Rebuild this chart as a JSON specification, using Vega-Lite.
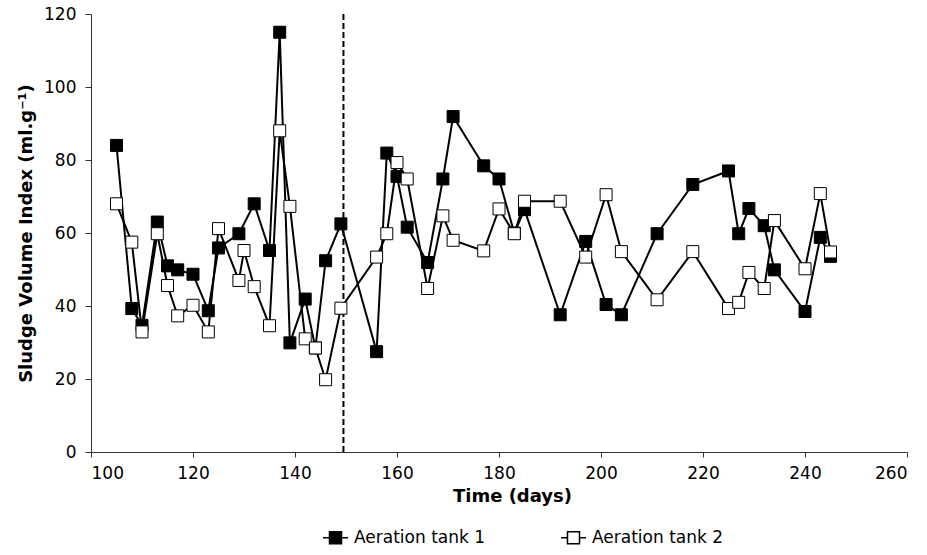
{
  "$schema": "https://vega.github.io/schema/vega-lite/v6.json",
  "autosize": {"type": "none"},
  "width": 816,
  "height": 438,
  "padding": {"left": 91, "top": 14, "right": 20, "bottom": 103},
  "background": "#ffffff",
  "config": {
    "view": {"stroke": null},
    "font": "DejaVu Sans",
    "axis": {"grid": false, "domainColor": "#333333", "tickColor": "#333333", "labelColor": "#000000", "titleColor": "#000000", "labelFont": "DejaVu Sans", "titleFont": "DejaVu Sans", "labelFontSize": 17, "titleFontSize": 18, "titleFontWeight": "bold"}
  },
  "datasets": {
    "svi": [
      {"day": 105, "svi": 84, "series": "Aeration tank 1"},
      {"day": 108, "svi": 39.3, "series": "Aeration tank 1"},
      {"day": 110, "svi": 34.7, "series": "Aeration tank 1"},
      {"day": 113, "svi": 63, "series": "Aeration tank 1"},
      {"day": 115, "svi": 51, "series": "Aeration tank 1"},
      {"day": 117, "svi": 49.9, "series": "Aeration tank 1"},
      {"day": 120, "svi": 48.7, "series": "Aeration tank 1"},
      {"day": 123, "svi": 38.7, "series": "Aeration tank 1"},
      {"day": 125, "svi": 55.9, "series": "Aeration tank 1"},
      {"day": 129, "svi": 59.8, "series": "Aeration tank 1"},
      {"day": 132, "svi": 68, "series": "Aeration tank 1"},
      {"day": 135, "svi": 55.2, "series": "Aeration tank 1"},
      {"day": 137, "svi": 115, "series": "Aeration tank 1"},
      {"day": 139, "svi": 29.9, "series": "Aeration tank 1"},
      {"day": 142, "svi": 41.9, "series": "Aeration tank 1"},
      {"day": 144, "svi": 28.5, "series": "Aeration tank 1"},
      {"day": 146, "svi": 52.4, "series": "Aeration tank 1"},
      {"day": 149, "svi": 62.5, "series": "Aeration tank 1"},
      {"day": 156, "svi": 27.5, "series": "Aeration tank 1"},
      {"day": 158, "svi": 81.9, "series": "Aeration tank 1"},
      {"day": 160, "svi": 75.5, "series": "Aeration tank 1"},
      {"day": 162, "svi": 61.6, "series": "Aeration tank 1"},
      {"day": 166, "svi": 51.9, "series": "Aeration tank 1"},
      {"day": 169, "svi": 74.8, "series": "Aeration tank 1"},
      {"day": 171, "svi": 91.9, "series": "Aeration tank 1"},
      {"day": 177, "svi": 78.4, "series": "Aeration tank 1"},
      {"day": 180, "svi": 74.8, "series": "Aeration tank 1"},
      {"day": 183, "svi": 60, "series": "Aeration tank 1"},
      {"day": 185, "svi": 66.4, "series": "Aeration tank 1"},
      {"day": 192, "svi": 37.6, "series": "Aeration tank 1"},
      {"day": 197, "svi": 57.7, "series": "Aeration tank 1"},
      {"day": 201, "svi": 40.4, "series": "Aeration tank 1"},
      {"day": 204, "svi": 37.6, "series": "Aeration tank 1"},
      {"day": 211, "svi": 59.8, "series": "Aeration tank 1"},
      {"day": 218, "svi": 73.3, "series": "Aeration tank 1"},
      {"day": 225, "svi": 77, "series": "Aeration tank 1"},
      {"day": 227, "svi": 59.8, "series": "Aeration tank 1"},
      {"day": 229, "svi": 66.7, "series": "Aeration tank 1"},
      {"day": 232, "svi": 62, "series": "Aeration tank 1"},
      {"day": 234, "svi": 49.9, "series": "Aeration tank 1"},
      {"day": 240, "svi": 38.5, "series": "Aeration tank 1"},
      {"day": 243, "svi": 58.8, "series": "Aeration tank 1"},
      {"day": 245, "svi": 53.6, "series": "Aeration tank 1"},
      {"day": 105, "svi": 68, "series": "Aeration tank 2"},
      {"day": 108, "svi": 57.5, "series": "Aeration tank 2"},
      {"day": 110, "svi": 32.9, "series": "Aeration tank 2"},
      {"day": 113, "svi": 59.8, "series": "Aeration tank 2"},
      {"day": 115, "svi": 45.6, "series": "Aeration tank 2"},
      {"day": 117, "svi": 37.3, "series": "Aeration tank 2"},
      {"day": 120, "svi": 40.2, "series": "Aeration tank 2"},
      {"day": 123, "svi": 32.9, "series": "Aeration tank 2"},
      {"day": 125, "svi": 61.2, "series": "Aeration tank 2"},
      {"day": 129, "svi": 47, "series": "Aeration tank 2"},
      {"day": 130, "svi": 55.2, "series": "Aeration tank 2"},
      {"day": 132, "svi": 45.3, "series": "Aeration tank 2"},
      {"day": 135, "svi": 34.6, "series": "Aeration tank 2"},
      {"day": 137, "svi": 88, "series": "Aeration tank 2"},
      {"day": 139, "svi": 67.3, "series": "Aeration tank 2"},
      {"day": 142, "svi": 31, "series": "Aeration tank 2"},
      {"day": 144, "svi": 28.5, "series": "Aeration tank 2"},
      {"day": 146, "svi": 19.8, "series": "Aeration tank 2"},
      {"day": 149, "svi": 39.4, "series": "Aeration tank 2"},
      {"day": 156, "svi": 53.4, "series": "Aeration tank 2"},
      {"day": 158, "svi": 59.8, "series": "Aeration tank 2"},
      {"day": 160, "svi": 79.3, "series": "Aeration tank 2"},
      {"day": 162, "svi": 74.8, "series": "Aeration tank 2"},
      {"day": 166, "svi": 44.8, "series": "Aeration tank 2"},
      {"day": 169, "svi": 64.7, "series": "Aeration tank 2"},
      {"day": 171, "svi": 58, "series": "Aeration tank 2"},
      {"day": 177, "svi": 55.1, "series": "Aeration tank 2"},
      {"day": 180, "svi": 66.6, "series": "Aeration tank 2"},
      {"day": 183, "svi": 59.8, "series": "Aeration tank 2"},
      {"day": 185, "svi": 68.7, "series": "Aeration tank 2"},
      {"day": 192, "svi": 68.7, "series": "Aeration tank 2"},
      {"day": 197, "svi": 53.4, "series": "Aeration tank 2"},
      {"day": 201, "svi": 70.5, "series": "Aeration tank 2"},
      {"day": 204, "svi": 54.9, "series": "Aeration tank 2"},
      {"day": 211, "svi": 41.7, "series": "Aeration tank 2"},
      {"day": 218, "svi": 54.9, "series": "Aeration tank 2"},
      {"day": 225, "svi": 39.3, "series": "Aeration tank 2"},
      {"day": 227, "svi": 41, "series": "Aeration tank 2"},
      {"day": 229, "svi": 49.2, "series": "Aeration tank 2"},
      {"day": 232, "svi": 44.8, "series": "Aeration tank 2"},
      {"day": 234, "svi": 63.4, "series": "Aeration tank 2"},
      {"day": 240, "svi": 50.2, "series": "Aeration tank 2"},
      {"day": 243, "svi": 70.8, "series": "Aeration tank 2"},
      {"day": 245, "svi": 54.8, "series": "Aeration tank 2"}
    ],
    "marker": [{"day": 149.5}]
  },
  "layer": [
    {
      "data": {"name": "marker"},
      "mark": {"type": "rule", "color": "#000000", "strokeWidth": 2, "strokeDash": [6, 3]},
      "encoding": {
        "x": {"field": "day", "type": "quantitative", "scale": {"domain": [100, 260], "nice": false, "zero": false}}
      }
    },
    {
      "data": {"name": "svi"},
      "mark": {"type": "line", "color": "#000000", "strokeWidth": 2},
      "encoding": {
        "x": {"field": "day", "type": "quantitative", "scale": {"domain": [100, 260], "nice": false, "zero": false},
          "axis": {"title": "Time (days)", "values": [100, 120, 140, 160, 180, 200, 220, 240, 260], "tickSize": 5, "labelPadding": 8, "titlePadding": 6, "titleX": 421}},
        "y": {"field": "svi", "type": "quantitative", "scale": {"domain": [0, 120], "nice": false},
          "axis": {"title": "Sludge Volume Index (ml.g⁻¹)", "values": [0, 20, 40, 60, 80, 100, 120], "tickSize": 6, "labelPadding": 9, "titlePadding": 8}},
        "detail": {"field": "series", "type": "nominal"}
      }
    },
    {
      "data": {"name": "svi"},
      "mark": {"type": "square", "size": 144, "stroke": "#000000", "strokeWidth": 1, "opacity": 1},
      "encoding": {
        "x": {"field": "day", "type": "quantitative"},
        "y": {"field": "svi", "type": "quantitative"},
        "fill": {"field": "series", "type": "nominal",
          "scale": {"domain": ["Aeration tank 1", "Aeration tank 2"], "range": ["#000000", "#ffffff"]},
          "legend": {
            "title": null, "orient": "none", "direction": "horizontal", "columns": 2,
            "legendX": 231, "legendY": 510, "columnPadding": 72,
            "labelFont": "DejaVu Sans", "labelFontSize": 17, "labelColor": "#000000", "labelOffset": 5,
            "symbolType": "M-1,0H-0.48M0.48,0H1M-0.48,-0.48H0.48V0.48H-0.48Z",
            "symbolSize": 625, "symbolStrokeColor": "#000000", "symbolStrokeWidth": 1.5,
            "encode": {"symbols": {"update": {
              "size": {"value": 625},
              "shape": {"value": "M-1,0H-0.48M0.48,0H1M-0.48,-0.48H0.48V0.48H-0.48Z"},
              "stroke": {"value": "#000000"},
              "strokeWidth": {"value": 1.5},
              "opacity": {"value": 1}
            }}}
          }
        }
      }
    }
  ]
}
